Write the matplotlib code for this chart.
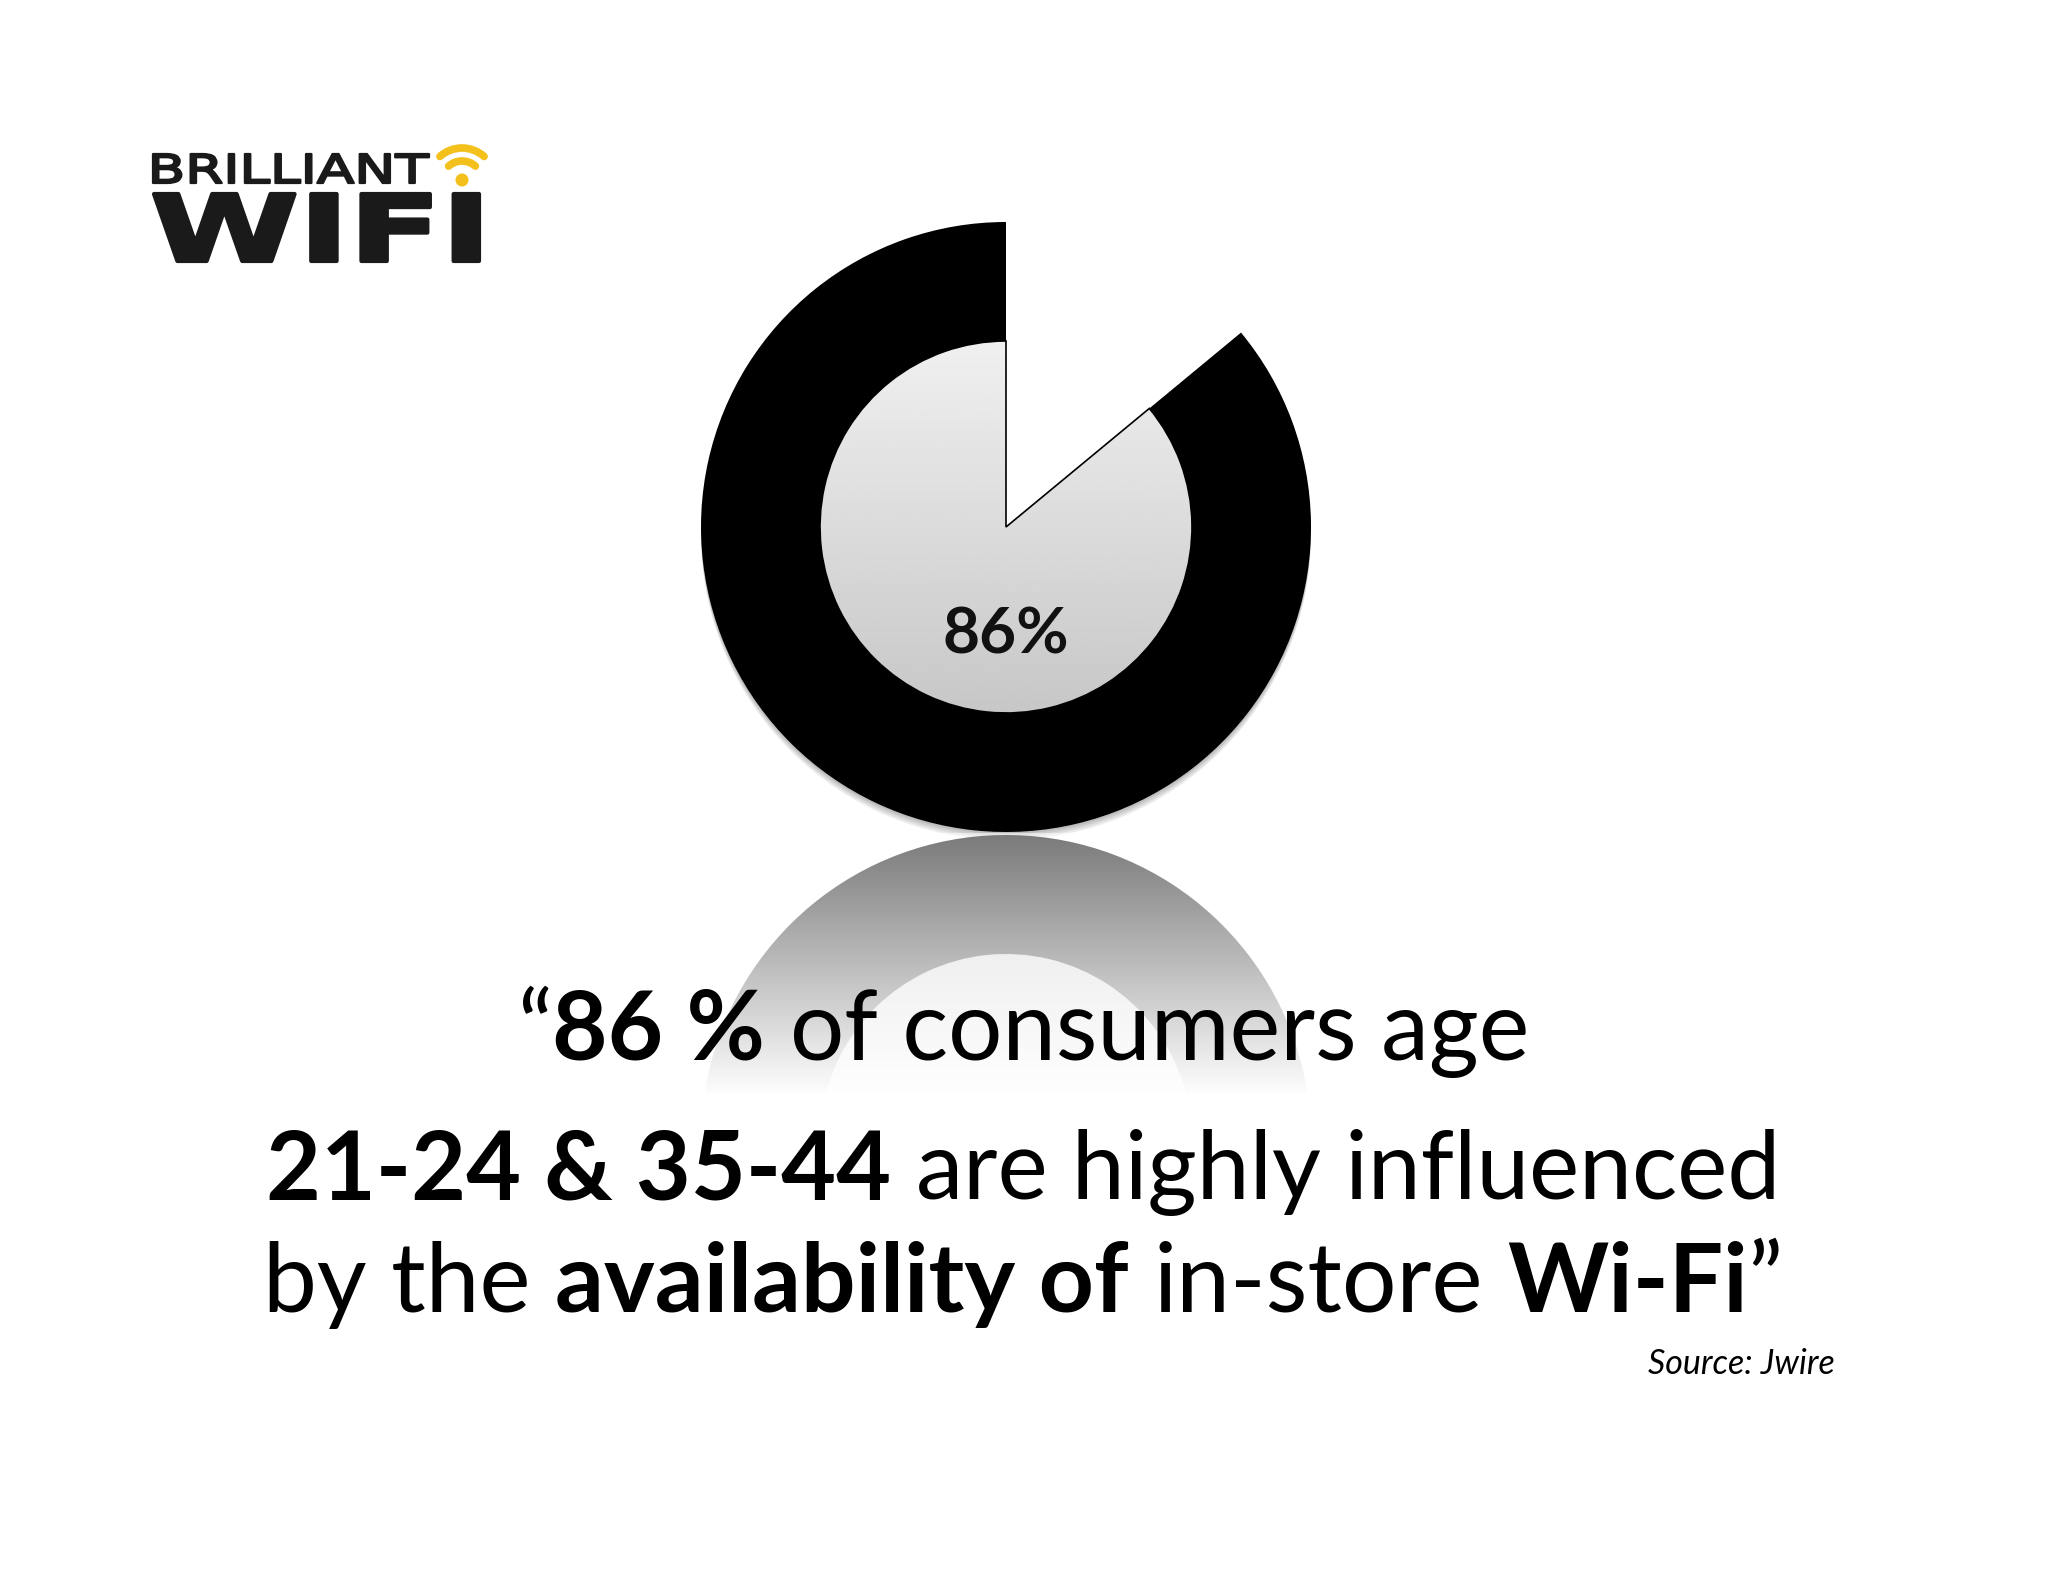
import numpy as np
import matplotlib.pyplot as plt
from matplotlib.patches import PathPatch, Arc, Circle, Rectangle
from matplotlib.textpath import TextPath
from matplotlib.font_manager import FontProperties
from matplotlib.transforms import Affine2D

W, H = 2048, 1582
FONT = "Lato"

# data
share = [86, 14]            # influenced / not influenced
share_label = "86%"
quote_lines = [
    [("\u201c", False), ("86 %", True), (" of consumers age", False)],
    [("21-24 & 35-44", True), (" are highly influenced", False)],
    [("by the ", False), ("availability of", True), (" in-store ", False),
     ("Wi-Fi", True), ("\u201d", False)],
]
source = "Source: Jwire"

fig = plt.figure(figsize=(W / 100, H / 100), dpi=100, facecolor="white")
ax = fig.add_axes([0, 0, 1, 1])
renderer = fig.canvas.get_renderer()


def Y(y):
    # page coords (y down) -> axes coords (y up)
    return H - y


# --- pie with the missing slice ---
cx, cy = 1006, Y(527)
R, r = 305, 186

outer, _ = ax.pie(share, colors=["black", "white"], startangle=90,
                  center=(cx, cy), radius=R, frame=True,
                  wedgeprops=dict(linewidth=0))
outer[1].set_visible(False)
for w in outer:
    w.set_zorder(2)

inner, _ = ax.pie(share, colors=["none", "none"], startangle=90,
                  center=(cx, cy), radius=r, frame=True,
                  wedgeprops=dict(linewidth=1.2, edgecolor="black"))
inner[1].set_visible(False)
inner[0].set_zorder(4)
grad = np.linspace(0.94, 0.78, 256)[:, None] * np.ones((256, 1))
im = ax.imshow(grad, cmap="gray", vmin=0, vmax=1, aspect="auto",
               extent=[cx - r, cx + r, cy - r, cy + r], zorder=3)
im.set_clip_path(inner[0])

ax.text(cx, Y(653), share_label, ha="center", va="baseline", fontsize=46,
        fontweight="bold", fontfamily=FONT, color="#111111", zorder=5)

# soft shadow under the ring (lower half only)
clip = Rectangle((cx - R - 20, cy - R - 20), 2 * R + 40, R + 20,
                 transform=ax.transData)
for d in (2, 4, 6, 8):
    c = Circle((cx, cy - d), R, fc="black", ec="none", alpha=0.07, zorder=1)
    ax.add_patch(c)
    c.set_clip_path(clip)

# --- reflection ---
ry = Y(527 + 2 * R + 3)
refl, _ = ax.pie(share, colors=["black", "white"], startangle=-90,
                 counterclock=False, center=(cx, ry), radius=R, frame=True,
                 wedgeprops=dict(linewidth=0))
refl_in, _ = ax.pie(share, colors=["#c9c9c9", "white"], startangle=-90,
                    counterclock=False, center=(cx, ry), radius=r, frame=True,
                    wedgeprops=dict(linewidth=0))
top, bot = 833, 1095
alpha = np.linspace(0.48, 1.0, 256)
fade = np.ones((256, 1, 4))
fade[:, 0, 3] = alpha
ax.imshow(fade, aspect="auto", extent=[cx - R - 10, cx + R + 10, Y(bot), Y(top)],
          zorder=2.5)
ax.add_patch(Rectangle((cx - R - 10, 0), 2 * R + 20, Y(bot), fc="white",
                       ec="none", zorder=2.5))


# --- quote text ---
def width_of(s, bold, size):
    t = ax.text(0, 0, s, fontsize=size, fontfamily=FONT,
                fontweight="bold" if bold else "normal")
    w = t.get_window_extent(renderer).width
    t.remove()
    return w


def layout(runs, size):
    pieces = []
    for s, b in runs:
        lead = len(s) - len(s.lstrip(" "))
        trail = len(s) - len(s.rstrip(" "))
        sp = width_of("x x", b, size) - width_of("xx", b, size)
        core = s.strip(" ")
        pieces.append((lead * sp, core, b, width_of(core, b, size), trail * sp))
    return pieces


def draw_line(runs, yb, size, xc=1023):
    pieces = layout(runs, size)
    total = sum(p[0] + p[3] + p[4] for p in pieces)
    x = xc - total / 2
    for lead, core, b, w, trail in pieces:
        x += lead
        ax.text(x, Y(yb), core, fontsize=size, fontfamily=FONT,
                fontweight="bold" if b else "normal", ha="left",
                va="baseline", color="black", zorder=6)
        x += w + trail


base = 60
w2 = sum(p[0] + p[3] + p[4] for p in layout(quote_lines[1], base))
size = base * 1515 / w2
for runs, yb, tw in zip(quote_lines, [1060, 1199, 1312], [1013, 1515, 1520]):
    w = sum(p[0] + p[3] + p[4] for p in layout(runs, size))
    draw_line(runs, yb, size * tw / w if abs(tw / w - 1) < 0.03 else size)

ax.text(1835, Y(1374), source, ha="right", va="baseline", fontsize=24.5,
        fontstyle="italic", fontfamily=FONT, color="black")


# --- logo ---
def fit_text(s, box, prop, color, lw=0):
    tp = TextPath((0, 0), s, prop=prop, size=100)
    bb = tp.get_extents()
    x0, y0, x1, y1 = box
    tr = (Affine2D().translate(-bb.x0, -bb.y0)
          .scale((x1 - x0) / bb.width, (y1 - y0) / bb.height)
          .translate(x0, Y(y1)))
    ax.add_patch(PathPatch(tr.transform_path(tp), fc=color, ec=color, lw=lw,
                           joinstyle="round", zorder=6))


fit_text("BRILLIANT", (153, 154, 429, 183),
         FontProperties(family="DejaVu Sans"), "#1a1a1a", lw=1.6)
fit_text("WIFI", (154, 194, 479, 261),
         FontProperties(family="DejaVu Sans", weight="heavy"), "#1a1a1a", lw=3)
yellow = "#f4c01c"
ax.add_patch(Circle((462, Y(180)), 6.5, fc=yellow, ec="none", zorder=6))
for rad in (20, 33):
    ax.add_patch(Arc((462, Y(181)), 2 * rad, 2 * rad, theta1=48, theta2=132,
                     lw=5.5, color=yellow, capstyle="round", zorder=6))

ax.set_xlim(0, W)
ax.set_ylim(0, H)
ax.set_aspect("auto")
ax.axis("off")
fig.savefig("out.png", dpi=100, facecolor="white")
